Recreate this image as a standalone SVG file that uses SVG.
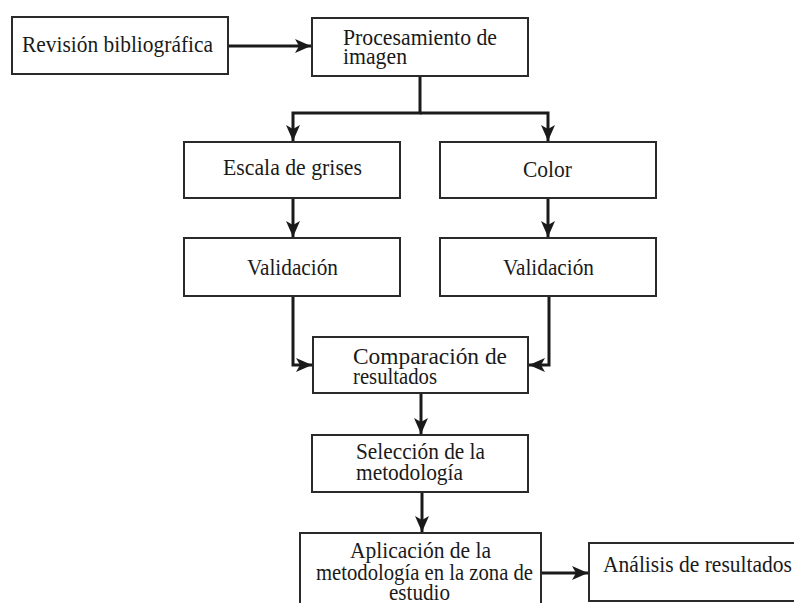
<svg xmlns="http://www.w3.org/2000/svg" width="794" height="603" viewBox="0 0 794 603">
<style>
.box{fill:#fff;stroke:#2a2a2a;stroke-width:2}
.t{font-family:"Liberation Serif","Times New Roman",serif;font-size:23.5px;fill:#1a1a1a}
.conn path{fill:none;stroke:#1a1a1a;stroke-width:3}
</style>
<defs>
<marker id="ah" markerUnits="userSpaceOnUse" markerWidth="18" markerHeight="14" refX="16" refY="7" orient="auto">
<path d="M0,0 L16,7 L0,14 L4,7 z" fill="#1a1a1a"/>
</marker>
</defs>
<rect width="794" height="603" fill="#fff"/>
<g class="conn">
<path d="M228,46 H311" marker-end="url(#ah)"/>
<path d="M420,76 V113 H293 V141" marker-end="url(#ah)"/>
<path d="M420,113 H548 V141" marker-end="url(#ah)"/>
<path d="M293,198 V237" marker-end="url(#ah)"/>
<path d="M548,198 V237" marker-end="url(#ah)"/>
<path d="M293,296 V365 H312" marker-end="url(#ah)"/>
<path d="M549,296 V365 H529" marker-end="url(#ah)"/>
<path d="M421,393 V434" marker-end="url(#ah)"/>
<path d="M422,492 V532" marker-end="url(#ah)"/>
<path d="M541,573 H588" marker-end="url(#ah)"/>
</g>
<g id="revision"><rect class="box" x="12" y="17" width="216" height="57"/><text class="t" x="22" y="52" textLength="191" lengthAdjust="spacingAndGlyphs">Revisión bibliográfica</text></g>
<g id="procesamiento"><rect class="box" x="312" y="18" width="216" height="58"/><text class="t" x="343" y="45" textLength="154" lengthAdjust="spacingAndGlyphs">Procesamiento de</text><text class="t" x="343" y="64" textLength="64" lengthAdjust="spacingAndGlyphs">imagen</text></g>
<g id="escala"><rect class="box" x="184" y="142" width="216" height="56"/><text class="t" x="223" y="175" textLength="139" lengthAdjust="spacingAndGlyphs">Escala de grises</text></g>
<g id="color"><rect class="box" x="440" y="142" width="216" height="56"/><text class="t" x="523" y="177" textLength="49" lengthAdjust="spacingAndGlyphs">Color</text></g>
<g id="validacion1"><rect class="box" x="184" y="238" width="216" height="58"/><text class="t" x="247" y="275" textLength="91" lengthAdjust="spacingAndGlyphs">Validación</text></g>
<g id="validacion2"><rect class="box" x="440" y="238" width="216" height="58"/><text class="t" x="503" y="275" textLength="91" lengthAdjust="spacingAndGlyphs">Validación</text></g>
<g id="comparacion"><rect class="box" x="313" y="337" width="215" height="56"/><text class="t" x="353" y="364" textLength="154" lengthAdjust="spacingAndGlyphs">Comparación de</text><text class="t" x="353" y="384" textLength="84" lengthAdjust="spacingAndGlyphs">resultados</text></g>
<g id="seleccion"><rect class="box" x="312" y="435" width="216" height="57"/><text class="t" x="356" y="459" textLength="129" lengthAdjust="spacingAndGlyphs">Selección de la</text><text class="t" x="356" y="480" textLength="107" lengthAdjust="spacingAndGlyphs">metodología</text></g>
<g id="aplicacion"><rect class="box" x="300" y="533" width="241" height="80"/><text class="t" x="350" y="558" textLength="141" lengthAdjust="spacingAndGlyphs">Aplicación de la</text><text class="t" x="316" y="580" textLength="217" lengthAdjust="spacingAndGlyphs">metodología en la zona de</text><text class="t" x="389" y="600" textLength="61" lengthAdjust="spacingAndGlyphs">estudio</text></g>
<g id="analisis"><rect class="box" x="589" y="543" width="215" height="58"/><text class="t" x="603" y="572" textLength="189" lengthAdjust="spacingAndGlyphs">Análisis de resultados</text></g>
</svg>
